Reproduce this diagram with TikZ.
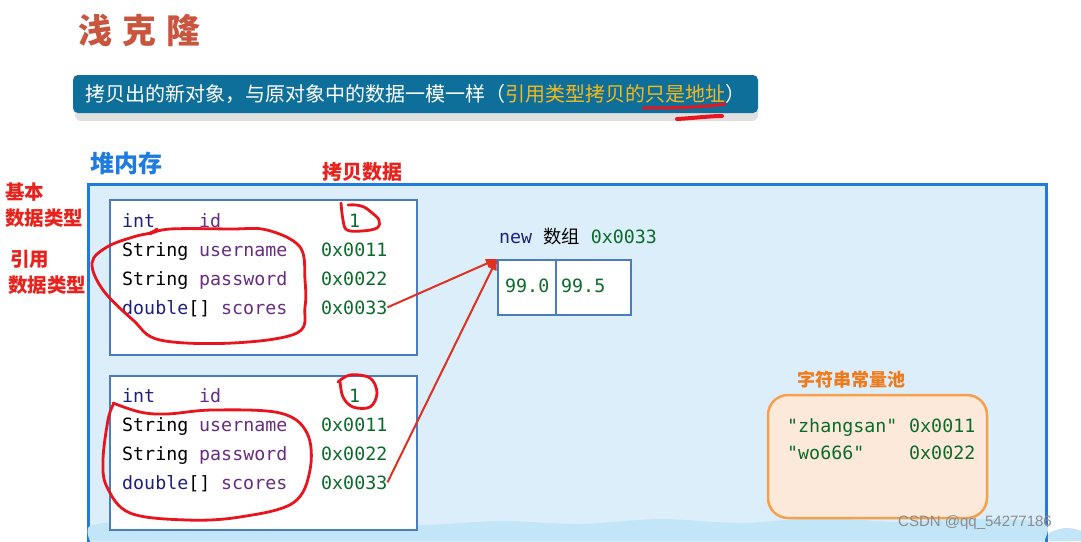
\documentclass[tikz,border=0pt]{standalone}
\usepackage{fontspec}
\setmonofont{DejaVu Sans Mono}
\newfontfamily\cjk{Noto Sans CJK SC}
\newfontfamily\wmfont{Liberation Sans}
\usetikzlibrary{arrows.meta}
\definecolor{titlec}{HTML}{C9553F}
\definecolor{bannerc}{HTML}{0E6F9A}
\definecolor{bannery}{HTML}{F4B91C}
\definecolor{handred}{HTML}{E8141E}
\definecolor{heapblue}{HTML}{1E7BE0}
\definecolor{heapfill}{HTML}{DDEEFB}
\definecolor{wavefill}{HTML}{C2E5F7}
\definecolor{objline}{HTML}{4A7CC0}
\definecolor{kwc}{HTML}{1E2080}
\definecolor{fldc}{HTML}{6A2C80}
\definecolor{valc}{HTML}{0B6B2A}
\definecolor{poolfill}{HTML}{FDE9D9}
\definecolor{poolline}{HTML}{F6A04E}
\definecolor{poolc}{HTML}{F07A1A}
\definecolor{arrowred}{HTML}{E03020}
\definecolor{labred}{HTML}{E8231E}
\tikzset{
  mono/.style={font=\fontsize{18.3}{20}\selectfont\ttfamily, inner sep=0pt, anchor=base west},
  kw/.style={mono, text=kwc},
  fld/.style={mono, text=fldc},
  val/.style={mono, text=valc},
  plain/.style={mono, text=black},
  objbox/.style={draw=objline, line width=2pt, fill=white},
  hand/.style={draw=handred, line width=2.8pt, line cap=round, line join=round},
  redarrow/.style={draw=arrowred, line width=2pt, -{Triangle[length=11pt,width=9pt]}},
  sidelab/.style={font=\cjk\bfseries\fontsize{19.5}{21}\selectfont, text=labred, inner sep=0pt, anchor=west},
}
\begin{document}
\begin{tikzpicture}[x=1pt,y=-1pt]
\useasboundingbox (0,0) rectangle (1081,541);
\fill[white] (0,0) rectangle (1081,541);

% title
\node[anchor=west, inner sep=0pt, text=titlec, font=\cjk\bfseries\fontsize{34}{36}\selectfont] (title) at (78,30) {浅\hspace{10pt}克\hspace{10pt}隆};

% banner
\fill[black!12, rounded corners=6pt] (75,100) rectangle (758,121);
\fill[bannerc, rounded corners=5pt] (73,75) rectangle (758,113);
\node[anchor=base west, inner sep=0pt, text=white, font=\cjk\fontsize{20}{22}\selectfont] (banner) at (85,101)
  {拷贝出的新对象，与原对象中的数据一模一样（\textcolor{bannery}{引用类型拷贝的只是地址}）};
\draw[handred, line width=3pt, line cap=round] (643,108) .. controls (680,108) and (705,107) .. (725,104);
\draw[handred, line width=4pt, line cap=round] (677,119) .. controls (695,118) and (710,116) .. (722,116);

% heap
\node[anchor=west, inner sep=0pt, text=heapblue, font=\cjk\bfseries\fontsize{24}{26}\selectfont] (heaplab) at (90,163) {堆内存};
\node[sidelab, font=\cjk\bfseries\fontsize{20}{22}\selectfont] (copylab) at (322,172) {拷贝数据};
\draw[heapblue, line width=3pt, fill=heapfill] (88,184) rectangle (1046,580);
\fill[wavefill] plot[smooth] coordinates {(90,541) (90,526) (130,521) (175,525) (230,519) (290,524) (350,520) (420,525) (500,521) (580,524) (660,519) (740,523) (820,518) (900,522) (980,519) (1044,523) (1044,541)} -- cycle;
\fill[wavefill] plot[smooth] coordinates {(1049,541) (1049,533) (1065,528) (1081,531) (1081,541)} -- cycle;

% side labels
\node[sidelab] (l1) at (5,192) {基本};
\node[sidelab] (l2) at (5,218) {数据类型};
\node[sidelab] (l3) at (10,259) {引用};
\node[sidelab] (l4) at (8,285) {数据类型};

% object 1
\draw[objbox] (110,200) rectangle (417,355);
\node[kw] (a1t) at (122,227) {int};
\node[fld] (a1n) at (199,227) {id};
\node[val] (a1v1) at (349,227) {1};
\node[plain] (a2t) at (122,256) {String};
\node[fld] (a2n) at (199,256) {username};
\node[val] (a1v2) at (321,256) {0x0011};
\node[plain] (a3t) at (122,285) {String};
\node[fld] (a3n) at (199,285) {password};
\node[val] (a1v3) at (321,285) {0x0022};
\node[plain] (a4t) at (122,314) {\textcolor{kwc}{double}[]};
\node[fld] (a4n) at (221,314) {scores};
\node[val] (a1v4) at (321,314) {0x0033};

% object 2
\draw[objbox] (110,376) rectangle (417,530);
\node[kw] (b1t) at (122,402) {int};
\node[fld] (b1n) at (199,402) {id};
\node[val] (b1v1) at (349,402) {1};
\node[plain] (b2t) at (122,431) {String};
\node[fld] (b2n) at (199,431) {username};
\node[val] (b1v2) at (321,431) {0x0011};
\node[plain] (b3t) at (122,460) {String};
\node[fld] (b3n) at (199,460) {password};
\node[val] (b1v3) at (321,460) {0x0022};
\node[plain] (b4t) at (122,489) {\textcolor{kwc}{double}[]};
\node[fld] (b4n) at (221,489) {scores};
\node[val] (b1v4) at (321,489) {0x0033};

% array
\node[kw] (arrlab) at (499,243) {new \textcolor{black}{\cjk 数组} \textcolor{valc}{0x0033}};
\node[draw=objline, line width=2pt, fill=white, minimum width=58pt, minimum height=55pt, inner sep=0pt, anchor=north west] (arr) at (497,259) {};
\node[draw=objline, line width=2pt, fill=white, minimum width=75pt, minimum height=55pt, inner sep=0pt, anchor=north west] (arr2) at (555,259) {};
\node[val] (e0) at (505,292) {99.0};
\node[val] (e1) at (561,292) {99.5};

% string pool
\node[sidelab, text=poolc, font=\cjk\bfseries\fontsize{18}{20}\selectfont] (poollab) at (797,380) {字符串常量池};
\draw[poolline, line width=2.5pt, fill=poolfill, rounded corners=20pt] (768,395) rectangle (987,518);
\node[val] (s1) at (787,432) {"zhangsan"};
\node[val] (s1v) at (909,432) {0x0011};
\node[val] (s2) at (787,459) {"wo666"};
\node[val] (s2v) at (909,459) {0x0022};

% arrows
\draw[redarrow] (a1v4.east) -- (arr.north west);
\draw[redarrow] (b1v4.east) -- (arr.north west);

% hand-drawn loops
\draw[hand] plot[smooth, tension=0.6] coordinates {(341,203) (343,220) (347,230) (362,231) (377,228) (379,220) (371,212) (364,207) (356,205) (348,205)};
\draw[hand] plot[smooth, tension=0.6] coordinates {(150,234) (170,229) (230,229) (267,230) (300,247) (305,280) (305,307) (297,333) (233,343) (160,340) (133,320) (103,290) (92,263) (107,247) (133,237) (150,233) (157,229)};
\draw[hand] plot[smooth, tension=0.6] coordinates {(340,381) (343,397) (353,407) (370,407) (377,393) (370,378) (350,375) (338,382)};
\draw[hand] plot[smooth, tension=0.6] coordinates {(113,403) (140,412) (167,414) (213,410) (280,413) (307,433) (310,470) (293,503) (240,517) (187,520) (130,513) (107,487) (103,460) (108,420) (113,405)};

% watermark
\node[anchor=west, inner sep=0pt, text=black!45, font=\wmfont\fontsize{15}{17}\selectfont] (wm) at (898,523) {CSDN @qq\_54277186};
\end{tikzpicture}
\end{document}
